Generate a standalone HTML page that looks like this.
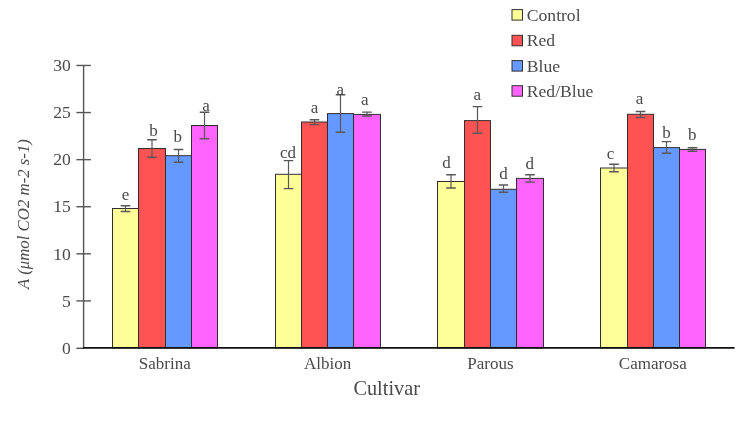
<!DOCTYPE html>
<html><head><meta charset="utf-8"><style>
html,body{margin:0;padding:0;background:#fff;}
body{width:744px;height:428px;overflow:hidden;}
svg{display:block;will-change:transform;}
.t{font-family:"Liberation Serif",serif;font-size:17px;fill:#4a4a4a;}
</style></head><body>
<svg width="744" height="428" viewBox="0 0 744 428">
<rect width="744" height="428" fill="#fff"/>
<rect x="112.5" y="208.5" width="26.00" height="139.40" fill="#ffff99" stroke="#303030" stroke-width="1"/>
<rect x="138.5" y="148.5" width="27.00" height="199.40" fill="#ff5252" stroke="#303030" stroke-width="1"/>
<rect x="165.5" y="155.7" width="26.00" height="192.20" fill="#6699ff" stroke="#303030" stroke-width="1"/>
<rect x="191.5" y="125.5" width="26.00" height="222.40" fill="#ff64ff" stroke="#303030" stroke-width="1"/>
<rect x="275.5" y="174.3" width="26.00" height="173.60" fill="#ffff99" stroke="#303030" stroke-width="1"/>
<rect x="301.5" y="122.0" width="26.00" height="225.90" fill="#ff5252" stroke="#303030" stroke-width="1"/>
<rect x="327.5" y="113.6" width="26.00" height="234.30" fill="#6699ff" stroke="#303030" stroke-width="1"/>
<rect x="353.5" y="114.4" width="27.00" height="233.50" fill="#ff64ff" stroke="#303030" stroke-width="1"/>
<rect x="437.5" y="181.5" width="27.00" height="166.40" fill="#ffff99" stroke="#303030" stroke-width="1"/>
<rect x="464.5" y="120.6" width="26.00" height="227.30" fill="#ff5252" stroke="#303030" stroke-width="1"/>
<rect x="490.5" y="189.3" width="26.00" height="158.60" fill="#6699ff" stroke="#303030" stroke-width="1"/>
<rect x="516.5" y="178.4" width="27.00" height="169.50" fill="#ff64ff" stroke="#303030" stroke-width="1"/>
<rect x="600.5" y="168.0" width="27.00" height="179.90" fill="#ffff99" stroke="#303030" stroke-width="1"/>
<rect x="627.5" y="114.3" width="26.00" height="233.60" fill="#ff5252" stroke="#303030" stroke-width="1"/>
<rect x="653.5" y="147.6" width="26.00" height="200.30" fill="#6699ff" stroke="#303030" stroke-width="1"/>
<rect x="679.5" y="149.4" width="26.00" height="198.50" fill="#ff64ff" stroke="#303030" stroke-width="1"/>
<path d="M125.50 205.8V211.5" stroke="#585858" stroke-width="1.2" fill="none"/><path d="M120.70 205.8H130.30M120.70 211.5H130.30" stroke="#585858" stroke-width="1.45" fill="none"/>
<text x="125.50" y="199.8" text-anchor="middle" class="t">e</text>
<path d="M152.00 139.8V157.2" stroke="#585858" stroke-width="1.2" fill="none"/><path d="M147.20 139.8H156.80M147.20 157.2H156.80" stroke="#585858" stroke-width="1.45" fill="none"/>
<text x="153.50" y="135.7" text-anchor="middle" class="t">b</text>
<path d="M178.50 149.4V162.3" stroke="#585858" stroke-width="1.2" fill="none"/><path d="M173.70 149.4H183.30M173.70 162.3H183.30" stroke="#585858" stroke-width="1.45" fill="none"/>
<text x="177.80" y="141.6" text-anchor="middle" class="t">b</text>
<path d="M204.50 112.2V138.8" stroke="#585858" stroke-width="1.2" fill="none"/><path d="M199.70 112.2H209.30M199.70 138.8H209.30" stroke="#585858" stroke-width="1.45" fill="none"/>
<text x="206.00" y="111.0" text-anchor="middle" class="t">a</text>
<path d="M288.50 160.6V188.6" stroke="#585858" stroke-width="1.2" fill="none"/><path d="M283.70 160.6H293.30M283.70 188.6H293.30" stroke="#585858" stroke-width="1.45" fill="none"/>
<text x="288.05" y="158.2" text-anchor="middle" class="t">cd</text>
<path d="M314.50 119.7V124.6" stroke="#585858" stroke-width="1.2" fill="none"/><path d="M309.70 119.7H319.30M309.70 124.6H319.30" stroke="#585858" stroke-width="1.45" fill="none"/>
<text x="314.50" y="113.2" text-anchor="middle" class="t">a</text>
<path d="M340.50 94.7V132.2" stroke="#585858" stroke-width="1.2" fill="none"/><path d="M335.70 94.7H345.30M335.70 132.2H345.30" stroke="#585858" stroke-width="1.45" fill="none"/>
<text x="340.20" y="95.1" text-anchor="middle" class="t">a</text>
<path d="M367.00 112.1V116.0" stroke="#585858" stroke-width="1.2" fill="none"/><path d="M362.20 112.1H371.80M362.20 116.0H371.80" stroke="#585858" stroke-width="1.45" fill="none"/>
<text x="364.80" y="105.4" text-anchor="middle" class="t">a</text>
<path d="M451.00 174.7V187.9" stroke="#585858" stroke-width="1.2" fill="none"/><path d="M446.20 174.7H455.80M446.20 187.9H455.80" stroke="#585858" stroke-width="1.45" fill="none"/>
<text x="446.40" y="168.4" text-anchor="middle" class="t">d</text>
<path d="M477.50 106.6V133.3" stroke="#585858" stroke-width="1.2" fill="none"/><path d="M472.70 106.6H482.30M472.70 133.3H482.30" stroke="#585858" stroke-width="1.45" fill="none"/>
<text x="477.20" y="99.6" text-anchor="middle" class="t">a</text>
<path d="M503.50 185.0V192.3" stroke="#585858" stroke-width="1.2" fill="none"/><path d="M498.70 185.0H508.30M498.70 192.3H508.30" stroke="#585858" stroke-width="1.45" fill="none"/>
<text x="503.60" y="179.2" text-anchor="middle" class="t">d</text>
<path d="M530.00 174.7V182.1" stroke="#585858" stroke-width="1.2" fill="none"/><path d="M525.20 174.7H534.80M525.20 182.1H534.80" stroke="#585858" stroke-width="1.45" fill="none"/>
<text x="529.70" y="169.3" text-anchor="middle" class="t">d</text>
<path d="M614.00 164.3V171.8" stroke="#585858" stroke-width="1.2" fill="none"/><path d="M609.20 164.3H618.80M609.20 171.8H618.80" stroke="#585858" stroke-width="1.45" fill="none"/>
<text x="610.40" y="158.7" text-anchor="middle" class="t">c</text>
<path d="M640.50 111.5V117.4" stroke="#585858" stroke-width="1.2" fill="none"/><path d="M635.70 111.5H645.30M635.70 117.4H645.30" stroke="#585858" stroke-width="1.45" fill="none"/>
<text x="639.60" y="103.6" text-anchor="middle" class="t">a</text>
<path d="M666.50 141.6V153.3" stroke="#585858" stroke-width="1.2" fill="none"/><path d="M661.70 141.6H671.30M661.70 153.3H671.30" stroke="#585858" stroke-width="1.45" fill="none"/>
<text x="666.50" y="138.4" text-anchor="middle" class="t">b</text>
<path d="M692.50 147.7V151.2" stroke="#585858" stroke-width="1.2" fill="none"/><path d="M687.70 147.7H697.30M687.70 151.2H697.30" stroke="#585858" stroke-width="1.45" fill="none"/>
<text x="692.30" y="140.4" text-anchor="middle" class="t">b</text>
<line x1="83.6" y1="65.5" x2="83.6" y2="347.9" stroke="#555" stroke-width="1.4"/>
<line x1="76.4" y1="65.46000000000004" x2="90.9" y2="65.46000000000004" stroke="#555" stroke-width="1.4"/>
<text x="70.8" y="71.2" text-anchor="end" class="t" style="font-size:17.6px">30</text>
<line x1="76.4" y1="112.55000000000001" x2="90.9" y2="112.55000000000001" stroke="#555" stroke-width="1.4"/>
<text x="70.8" y="118.3" text-anchor="end" class="t" style="font-size:17.6px">25</text>
<line x1="76.4" y1="159.64000000000001" x2="90.9" y2="159.64000000000001" stroke="#555" stroke-width="1.4"/>
<text x="70.8" y="165.3" text-anchor="end" class="t" style="font-size:17.6px">20</text>
<line x1="76.4" y1="206.73000000000002" x2="90.9" y2="206.73000000000002" stroke="#555" stroke-width="1.4"/>
<text x="70.8" y="212.4" text-anchor="end" class="t" style="font-size:17.6px">15</text>
<line x1="76.4" y1="253.82" x2="90.9" y2="253.82" stroke="#555" stroke-width="1.4"/>
<text x="70.8" y="259.5" text-anchor="end" class="t" style="font-size:17.6px">10</text>
<line x1="76.4" y1="300.91" x2="90.9" y2="300.91" stroke="#555" stroke-width="1.4"/>
<text x="70.8" y="306.6" text-anchor="end" class="t" style="font-size:17.6px">5</text>
<line x1="76.4" y1="348.3" x2="83.6" y2="348.3" stroke="#555" stroke-width="1.4"/>
<text x="70.8" y="354.0" text-anchor="end" class="t" style="font-size:17.6px">0</text>
<line x1="82.9" y1="347.9" x2="734.6" y2="347.9" stroke="#111" stroke-width="1.7"/>
<text x="164.8" y="368.5" text-anchor="middle" class="t">Sabrina</text>
<text x="327.6" y="368.5" text-anchor="middle" class="t">Albion</text>
<text x="490.5" y="368.5" text-anchor="middle" class="t">Parous</text>
<text x="652.8" y="368.5" text-anchor="middle" class="t">Camarosa</text>
<text x="386.7" y="395.4" text-anchor="middle" class="t" style="font-size:20.3px">Cultivar</text>
<text x="0" y="0" transform="translate(29.2 214) rotate(-90)" text-anchor="middle" class="t" style="font-style:italic;font-size:16.8px">A (μmol CO2 m-2 s-1)</text>
<rect x="512" y="9.6" width="10.5" height="10.5" fill="#ffff99" stroke="#303030" stroke-width="1"/>
<text x="526.8" y="20.5" class="t" style="font-size:17.6px">Control</text>
<rect x="512" y="35.3" width="10.5" height="10.5" fill="#ff5252" stroke="#303030" stroke-width="1"/>
<text x="526.8" y="46.2" class="t" style="font-size:17.6px">Red</text>
<rect x="512" y="60.6" width="10.5" height="10.5" fill="#6699ff" stroke="#303030" stroke-width="1"/>
<text x="526.8" y="71.5" class="t" style="font-size:17.6px">Blue</text>
<rect x="512" y="85.7" width="10.5" height="10.5" fill="#ff64ff" stroke="#303030" stroke-width="1"/>
<text x="526.8" y="96.6" class="t" style="font-size:17.6px">Red/Blue</text>
</svg>
</body></html>
